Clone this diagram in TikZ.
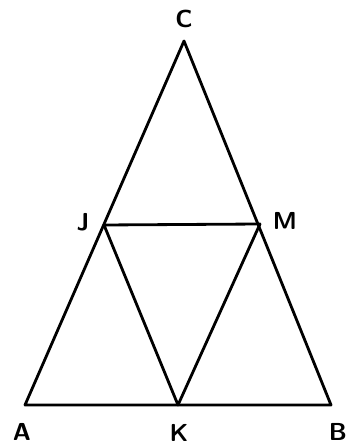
\documentclass[tikz,border=0pt]{standalone}
\begin{document}
\begin{tikzpicture}[x=0.02cm,y=-0.02cm,
    edge/.style={line width=1.6pt,line join=round,line cap=round},
    vlabel/.style={font=\sffamily\bfseries\fontsize{14}{16}\selectfont,inner sep=0pt}]
  \useasboundingbox (0,0) rectangle (347,445);
  \coordinate (A) at (25,405);
  \coordinate (B) at (331,405);
  \coordinate (C) at (184,41);
  \coordinate (J) at (104,225);
  \coordinate (M) at (260,224);
  \coordinate (K) at (178,405);
  \draw[edge] (A) -- (B) -- (C) -- cycle;
  \draw[edge] (J) -- (M) -- (K) -- cycle;
  \node[vlabel] (lC) at (184,19) {C};
  \node[vlabel] (lJ) at (83,222) {J};
  \node[vlabel] (lM) at (285,221) {M};
  \node[vlabel] (lA) at (22,432) {A};
  \node[vlabel] (lK) at (179,433) {K};
  \node[vlabel] (lB) at (338,432) {B};
\end{tikzpicture}
\end{document}
